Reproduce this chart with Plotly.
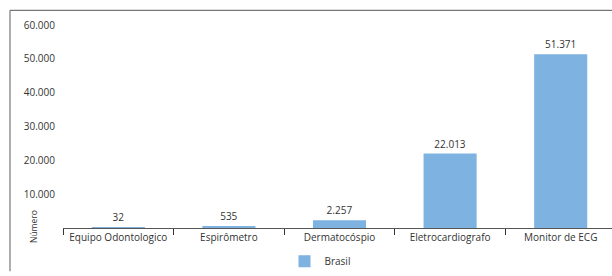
import plotly.graph_objects as go

categories = ["Equipo Odontologico", "Espirômetro", "Dermatocóspio", "Eletrocardiografo", "Monitor de ECG"]
values = [32, 535, 2257, 22013, 51371]
series_name = "Brasil"
y_ticks = [10000, 20000, 30000, 40000, 50000, 60000]

FONT = "Open Sans"
TXT = "#333333"
BAR = "#7EB2E0"

L, R, T, B = 63, 0, 25, 44
W, H = 612, 276
pw = W - L - R
ph = H - T - B

def px(x):
    return (x - L) / pw

def py(y):
    return (H - B - y) / ph

fig = go.Figure()
fig.add_trace(go.Bar(
    x=categories, y=values, name=series_name,
    marker=dict(color=BAR, line=dict(width=0)),
    texttemplate="%{y:,}", textposition="outside",
    textfont=dict(family=FONT, size=10, color=TXT),
    cliponaxis=False, showlegend=True,
))

cat_w = 110.6
fig.update_layout(
    width=W, height=H,
    margin=dict(l=L, r=R, t=T, b=B, pad=0),
    paper_bgcolor="white", plot_bgcolor="white",
    separators=",.",
    bargap=0.52,
    font=dict(family=FONT, size=10, color=TXT),
    xaxis=dict(
        range=[-0.5, -0.5 + pw / cat_w],
        showline=True, linecolor="#555555", linewidth=1,
        ticks="outside", tickson="boundaries", ticklen=6, tickcolor="#333333", tickwidth=1,
        tickfont=dict(family=FONT, size=10, color=TXT),
        showgrid=False, zeroline=False,
    ),
    yaxis=dict(
        range=[0, 60000],
        tickvals=y_ticks, tickformat=",",
        showgrid=False, zeroline=False, showline=False,
        ticks="", ticklabelstandoff=7,
        tickfont=dict(family=FONT, size=10, color=TXT),
    ),
    legend=dict(
        orientation="h", x=px(320), xanchor="center", y=py(266), yanchor="middle",
        font=dict(family=FONT, size=10, color=TXT),
        itemwidth=30,
    ),
    shapes=[
        dict(type="line", xref="paper", yref="paper", x0=px(10), x1=1.0, y0=py(10), y1=py(10),
             line=dict(color="#777777", width=1.2)),
        dict(type="line", xref="paper", yref="paper", x0=px(10), x1=px(10), y0=py(10), y1=py(276),
             line=dict(color="#777777", width=1.2)),
    ],
    annotations=[
        dict(text="Número", xref="paper", yref="paper", x=px(33), y=py(231),
             textangle=-90, showarrow=False, font=dict(family=FONT, size=8.5, color=TXT),
             xanchor="center", yanchor="middle"),
    ],
)

fig.write_html(
    "out.html",
    config={"displayModeBar": False},
    post_script="document.body.style.margin='0';document.body.style.overflow='hidden';",
)
